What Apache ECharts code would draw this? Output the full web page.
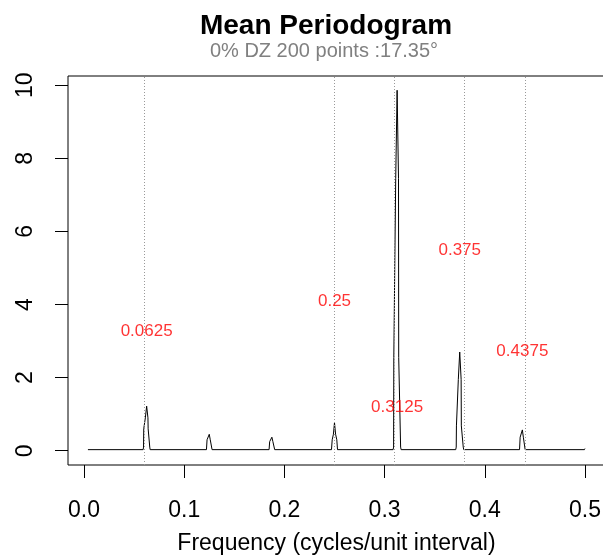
<!DOCTYPE html>
<html><head><meta charset="utf-8">
<script src="https://cdn.jsdelivr.net/npm/echarts@6/dist/echarts.min.js"></script>
<style>html,body{margin:0;padding:0;background:#fff}#c{width:603px;height:555px}</style>
</head><body><div id="c"></div>
<script>
// Frequency / mean periodogram values
const freq = [
  0.0039,
  0.0590, 0.0594, 0.0596, 0.0610, 0.0612, 0.0625, 0.0638, 0.0640, 0.0654, 0.0656, 0.0660,
  0.1222, 0.1228, 0.1240, 0.1250, 0.1260, 0.1272, 0.1278,
  0.1847, 0.1853, 0.1865, 0.1875, 0.1885, 0.1897, 0.1903,
  0.2470, 0.2477, 0.2489, 0.2500, 0.2511, 0.2523, 0.2530,
  0.3085, 0.3090, 0.3092, 0.3109, 0.3111, 0.3125, 0.3139, 0.3141, 0.3158, 0.3160, 0.3165,
  0.3710, 0.3715, 0.3717, 0.3734, 0.3736, 0.3750, 0.3764, 0.3766, 0.3783, 0.3785, 0.3790,
  0.4347, 0.4353, 0.4365, 0.4375, 0.4385, 0.4397, 0.4403,
  0.4995, 0.5000
];
const power = [
  0.03,
  0.03, 0.10, 0.60, 0.60, 0.90, 1.22, 0.90, 0.60, 0.60, 0.10, 0.03,
  0.03, 0.30, 0.30, 0.45, 0.30, 0.30, 0.03,
  0.03, 0.25, 0.25, 0.37, 0.25, 0.25, 0.03,
  0.03, 0.30, 0.45, 0.77, 0.45, 0.30, 0.03,
  0.03, 0.10, 2.55, 2.55, 7.45, 9.86, 7.45, 2.55, 2.55, 0.10, 0.03,
  0.03, 0.10, 0.68, 0.68, 1.95, 2.70, 1.95, 0.68, 0.68, 0.10, 0.03,
  0.03, 0.37, 0.37, 0.57, 0.37, 0.37, 0.03,
  0.03, 0.06
];
const markFreqs = [0.0625, 0.25, 0.3125, 0.375, 0.4375];
const labelFreqs = [0.0625, 0.25, 0.3125, 0.375, 0.4375];
const labelY = [3.27, 4.09, 1.19, 5.49, 2.73];
const labelTexts = ['0.0625', '0.25', '0.3125', '0.375', '0.4375'];
const xTicks = [0, 0.1, 0.2, 0.3, 0.4, 0.5];
const yTicks = [0, 2, 4, 6, 8, 10];
const titleText = 'Mean Periodogram';
const subText = '0% DZ 200 points :17.35°';
const xName = 'Frequency (cycles/unit interval)';

const FONT = 'Liberation Sans, Arial, sans-serif';
const chart = echarts.init(document.getElementById('c'), null, {renderer: 'canvas'});
chart.setOption({
  animation: false,
  backgroundColor: '#fff',
  graphic: [
    {type: 'text', x: 326, y: 26, style: {text: titleText, font: 'bold 28px ' + FONT, fill: '#000', textAlign: 'center', textVerticalAlign: 'middle'}},
    {type: 'text', x: 324, y: 51, style: {text: subText, font: '20px ' + FONT, fill: '#808080', textAlign: 'center', textVerticalAlign: 'middle'}}
  ],
  grid: {left: 68, top: 76, width: 537, height: 389, show: true, borderColor: '#000', borderWidth: 1, backgroundColor: 'transparent', outerBoundsMode: 'none', containLabel: false},
  xAxis: {
    type: 'value', min: -0.016, max: 0.52,
    axisLine: {show: false, onZero: false}, splitLine: {show: false},
    axisTick: {show: true, inside: false, customValues: xTicks, length: 13, lineStyle: {color: '#000', width: 1}},
    axisLabel: {customValues: xTicks, formatter: v => v.toFixed(1), fontSize: 23, color: '#000', fontFamily: FONT, margin: 34},
    name: xName, nameLocation: 'middle', nameGap: 67,
    nameTextStyle: {fontSize: 23, color: '#000', fontFamily: FONT}
  },
  yAxis: {
    type: 'value', min: -0.39, max: 10.25,
    axisLine: {show: false, onZero: false}, splitLine: {show: false},
    axisTick: {show: true, inside: false, customValues: yTicks, length: 13, lineStyle: {color: '#000', width: 1}},
    axisLabel: {customValues: yTicks, rotate: 90, fontSize: 23, color: '#000', fontFamily: FONT, margin: 31}
  },
  series: [
    {
      type: 'line', data: freq.map((f, i) => [f, power[i]]), showSymbol: false, symbol: 'none',
      lineStyle: {color: '#000', width: 1}, z: 3,
      markLine: {
        symbol: 'none', silent: true, label: {show: false},
        lineStyle: {type: [1, 2], color: '#999', width: 1},
        data: markFreqs.map(f => ({xAxis: f}))
      }
    },
    {
      type: 'scatter', symbol: 'circle', symbolSize: 1, itemStyle: {color: 'rgba(0,0,0,0)'}, z: 5,
      data: labelFreqs.map((f, i) => ({value: [f, labelY[i]], name: labelTexts[i]})),
      label: {show: true, position: 'inside', formatter: p => p.name, color: '#ff0000', fontSize: 17, fontFamily: FONT}
    }
  ]
});
</script>
</body></html>
